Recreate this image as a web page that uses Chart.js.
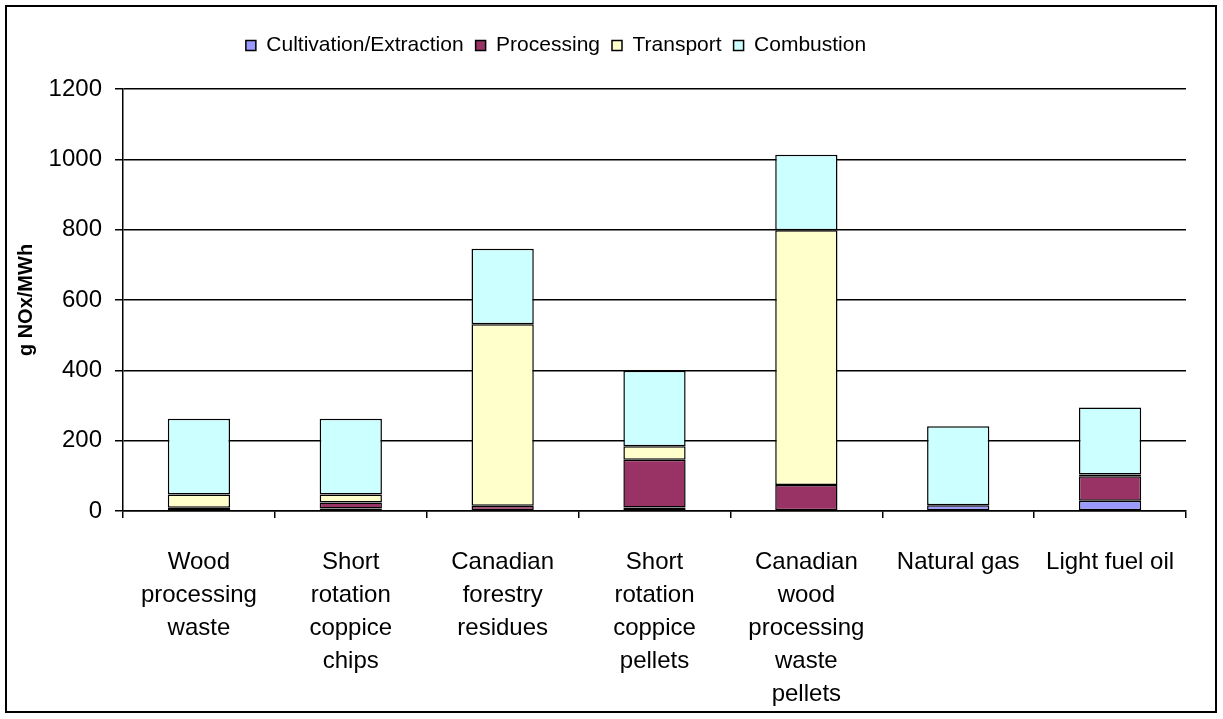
<!DOCTYPE html>
<html>
<head>
<meta charset="utf-8">
<script src="https://cdn.jsdelivr.net/npm/chart.js@4.4.0/dist/chart.umd.min.js"></script>
<style>
  html, body { margin: 0; padding: 0; background: #fff; }
  #wrap { position: relative; width: 1223px; height: 719px; }
  #frame { position: absolute; left: 5px; top: 5px; width: 1208px; height: 704px; border: 2px solid #000; pointer-events: none; }
  canvas { position: absolute; left: 0; top: 0; }
</style>
</head>
<body>
<div id="wrap">
  <canvas id="chart" width="1223" height="719"></canvas>
  <div id="frame"></div>
</div>
<script>
// Fuel chains (x-axis categories), multi-line labels
const categories = [
  ["Wood", "processing", "waste"],
  ["Short", "rotation", "coppice", "chips"],
  ["Canadian", "forestry", "residues"],
  ["Short", "rotation", "coppice", "pellets"],
  ["Canadian", "wood", "processing", "waste", "pellets"],
  "Natural gas",
  "Light fuel oil"
];

// NOx emissions per life-cycle stage, g NOx/MWh
const cultivation = [0, 7, 0, 10, 0, 16, 29];
const processing  = [9, 17, 15, 136, 74, 0, 70];
const transport   = [38, 23, 516, 38, 724, 0, 5];
const combustion  = [215, 215, 215, 215, 215, 225, 190];

const seriesNames = ["Cultivation/Extraction", "Processing", "Transport", "Combustion"];
const seriesColors = ["#9999FF", "#993366", "#FFFFCC", "#CCFFFF"];

const yTicks = [0, 200, 400, 600, 800, 1000, 1200];

const FONT = "'Liberation Sans', Arial, sans-serif";

// legend: extra room below the row, and the row sits a little left of centre
const legendTweak = {
  id: 'legendTweak',
  beforeInit(chart) {
    const legend = chart.legend;
    const fit = legend.fit;
    legend.fit = function () {
      fit.call(this);
      this.height += 23;
    };
    const draw = legend.draw;
    legend.draw = function () {
      const r = this.right;
      this.right -= 84;
      draw.call(this);
      this.right = r;
    };
  }
};

const seriesData = [cultivation, processing, transport, combustion];

new Chart(document.getElementById('chart'), {
  type: 'bar',
  data: {
    labels: categories,
    datasets: seriesNames.map((name, i) => ({
      label: name,
      data: seriesData[i],
      backgroundColor: seriesColors[i],
      borderColor: '#000',
      borderWidth: 1.5,
      borderSkipped: false,
      categoryPercentage: 1.0,
      barPercentage: 0.41
    }))
  },
  options: {
    responsive: false,
    devicePixelRatio: 1,
    animation: false,
    layout: { padding: { left: 10, right: 37, top: 23, bottom: 8 } },
    plugins: {
      tooltip: { enabled: false },
      legend: {
        position: 'top',
        labels: {
          color: '#000',
          font: { family: FONT, size: 21 },
          boxWidth: 10,
          boxHeight: 10,
          padding: 12,
          generateLabels(chart) {
            return chart.data.datasets.map((ds, i) => ({
              text: ds.label,
              fillStyle: ds.backgroundColor,
              strokeStyle: '#000',
              lineWidth: 1.5,
              hidden: !chart.isDatasetVisible(i),
              datasetIndex: i,
              fontColor: '#000'
            }));
          }
        }
      }
    },
    scales: {
      x: {
        stacked: true,
        offset: true,
        afterFit(scale) { scale.height = 200; },
        grid: {
          offset: true,
          drawOnChartArea: false,
          drawTicks: true,
          tickLength: 7,
          color: '#000',
          lineWidth: 1.5
        },
        border: { display: true, color: '#000', width: 1.5 },
        ticks: {
          color: '#000',
          font: { family: FONT, size: 24, lineHeight: 1.375 },
          padding: 28,
          maxRotation: 0,
          autoSkip: false
        }
      },
      y: {
        stacked: true,
        min: 0,
        max: 1200,
        afterFit(scale) { scale.width = 113; },
        afterBuildTicks(scale) { scale.ticks = yTicks.map(v => ({ value: v })); },
        grid: {
          color: '#000',
          lineWidth: 1.5,
          drawTicks: true,
          tickLength: 8
        },
        border: { display: true, color: '#000', width: 1.5 },
        ticks: {
          color: '#000',
          font: { family: FONT, size: 24 },
          padding: 13,
          callback: (v) => String(v)
        },
        title: {
          display: true,
          text: 'g NOx/MWh',
          color: '#000',
          font: { family: FONT, size: 20, weight: 'bold' },
          padding: { top: 4, bottom: 0 }
        }
      }
    }
  },
  plugins: [legendTweak]
});
</script>
</body>
</html>
